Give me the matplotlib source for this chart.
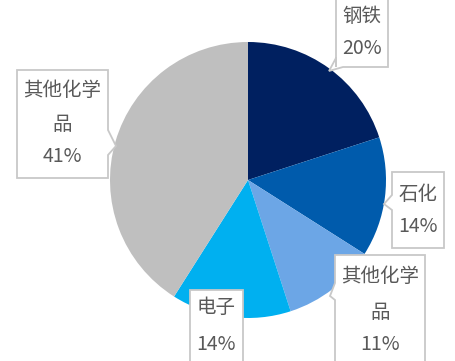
import matplotlib
matplotlib.use("Agg")
import matplotlib.pyplot as plt
from matplotlib.patches import Polygon

plt.rcParams['font.family'] = ['Noto Sans CJK SC', 'DejaVu Sans']

categories = ['钢铁', '石化', '其他化学\n品', '电子', '其他化学\n品']
values = [20, 14, 11, 14, 41]
colors = ['#002060', '#005BAC', '#6CA6E6', '#00B0F0', '#BFBFBF']

W, H = 456, 361
fig = plt.figure(figsize=(W / 100, H / 100), dpi=100)
cx, cy, r = 248, 180, 138
ax = fig.add_axes([(cx - r) / W, (H - cy - r) / H, 2 * r / W, 2 * r / H])
wedges, _ = ax.pie(values, colors=colors, startangle=90, counterclock=False,
                   wedgeprops=dict(linewidth=0))
ax.set_aspect('equal')
ax.set_xlim(-1, 1)
ax.set_ylim(-1, 1)

# overlay for callouts in pixel coordinates
ov = fig.add_axes([0, 0, 1, 1])
ov.set_xlim(0, W)
ov.set_ylim(H, 0)
ov.axis('off')

boxes = [
    (336, -5, 388, 67, [(336, 58), (329, 71), (343, 67)], 362, [17, 48]),
    (392, 172, 444, 248, [(392, 195), (384, 204), (392, 210)], 418, [195, 226]),
    (335, 255, 425, 370, [(335, 283), (330, 296), (335, 300)], 380, [277, 312, 345]),
    (190, 290, 243, 370, None, 216, [307, 345]),
    (17, 70, 108, 178, [(108, 130), (116, 146), (108, 155)], 62, [90, 125, 157]),
]
labels = [f"{c}\n{v}%" for c, v in zip(categories, values)]
for (l, t, rr, b, ptr, tx, ys), lab in zip(boxes, labels):
    pts = [(l, t), (rr, t), (rr, b), (l, b)]
    if ptr is not None:
        if ptr[0][0] == l and ptr[2][0] == l:
            pts = [(l, t), (rr, t), (rr, b), (l, b), ptr[2], ptr[1], ptr[0]]
        elif ptr[0][0] == rr:
            pts = [(l, t), (rr, t), ptr[0], ptr[1], ptr[2], (rr, b), (l, b)]
        else:
            pts = [(l, t), (rr, t), (rr, b), ptr[2], ptr[1], ptr[0], (l, b)]
    ov.add_patch(Polygon(pts, closed=True, facecolor='white', edgecolor='#C8C8C8',
                         linewidth=1.3, zorder=3))
    for line, y in zip(lab.split('\n'), ys):
        ov.text(tx, y, line, ha='center', va='center', fontsize=14,
                color='#595959', zorder=4)

fig.savefig('out.png', dpi=100)
